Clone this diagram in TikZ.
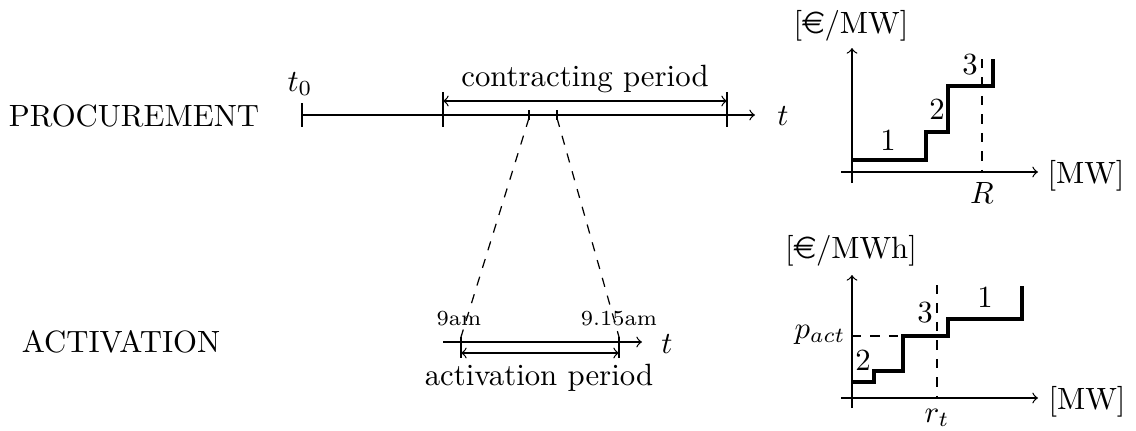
\documentclass[tikz,border=0pt]{standalone}
\usepackage{fontspec}
\usepackage{eurosym}
\begin{document}
\begin{tikzpicture}[x=0.325pt,y=-0.325pt,
  thinln/.style={line width=0.4pt},
  stepln/.style={line width=1.4pt},
  lbl/.style={inner sep=0pt},
  num/.style={inner sep=0pt}]
\useasboundingbox (0,0) rectangle (1136,431);

% ---- left labels
\node[lbl] (proc) at (134,116) {PROCUREMENT};
\node[lbl] (act) at (121,342) {ACTIVATION};

% ---- procurement timeline
\coordinate (p0) at (302,115);
\coordinate (pend) at (755,115);
\draw[thinln,->] (p0) -- (pend);
\draw[thinln] (302,103) -- (302,127);
\draw[thinln] (443,92) -- (443,127);
\draw[thinln] (727,92) -- (727,127);
\draw[thinln] (529,110) -- (529,120);
\draw[thinln] (557,110) -- (557,120);
\coordinate (ca) at (443,101);
\coordinate (cb) at (727,101);
\draw[thinln,<->] (ca) -- (cb);
\node[lbl,anchor=base] (cp) at (585,87) {contracting period};
\node[lbl] (t0) at (300,84) {$t_0$};
\node[lbl] (tt) at (783,116) {$t$};

% ---- activation timeline
\coordinate (a0) at (443,342);
\coordinate (aend) at (642,342);
\draw[thinln,->] (a0) -- (aend);
\coordinate (aa) at (461,337);
\coordinate (ab) at (619,337);
\draw[thinln] (461,337) -- (461,358);
\draw[thinln] (619,337) -- (619,358);
\coordinate (da) at (461,353);
\coordinate (db) at (619,353);
\draw[thinln,<->] (da) -- (db);
\node[lbl,font=\scriptsize] (nine) at (459,319) {9am};
\node[lbl,font=\scriptsize] (ninefif) at (619,319) {9.15am};
\node[lbl] (tb) at (667,344) {$t$};
\node[lbl,anchor=base] (ap) at (539,385) {activation period};

% ---- zoom connectors
\coordinate (s1b) at (529,118);
\coordinate (s2b) at (557,118);
\draw[thinln,dashed] (s1b) -- (aa);
\draw[thinln,dashed] (s2b) -- (ab);

% ---- top plot
\coordinate (ty0) at (852,183);
\coordinate (ty1) at (852,48);
\coordinate (tx0) at (841,172);
\coordinate (tx1) at (1038,172);
\draw[thinln,->] (ty0) -- (ty1);
\draw[thinln,->] (tx0) -- (tx1);
\node[lbl,anchor=base] (tyl) at (851,33) {[\euro/MW]};
\node[lbl,anchor=base] (txl) at (1086,183) {[MW]};
\draw[stepln] (852,160) -- (926,160) -- (926,132) -- (948,132) -- (948,86) -- (993,86) -- (993,59);
\coordinate (rt) at (982,59);
\coordinate (rb) at (982,172);
\draw[thinln,dashed] (rt) -- (rb);
\node[anchor=north] (R) at (rb) {$R$};
\node[num] (n1) at (888,140) {1};
\node[num] (n2) at (937,109) {2};
\node[num] (n3) at (970,65) {3};

% ---- bottom plot
\coordinate (by0) at (852,408);
\coordinate (by1) at (852,275);
\coordinate (bx0) at (841,398);
\coordinate (bx1) at (1038,398);
\draw[thinln,->] (by0) -- (by1);
\draw[thinln,->] (bx0) -- (bx1);
\node[lbl,anchor=base] (byl) at (851,258) {[\euro/MWh]};
\node[lbl,anchor=base] (bxl) at (1087,409) {[MW]};
\draw[stepln] (852,382) -- (874,382) -- (874,371) -- (903,371) -- (903,336) -- (948,336) -- (948,319) -- (1022,319) -- (1022,286);
\coordinate (pl) at (852,336);
\coordinate (pr) at (903,336);
\draw[thinln,dashed] (pl) -- (pr);
\coordinate (vt) at (937,285);
\coordinate (vb) at (937,398);
\draw[thinln,dashed] (vt) -- (vb);
\node[lbl,anchor=base east] (pact) at (846,338) {$p_{act}$};
\node[anchor=north] (rtl) at (vb) {$r_t$};
\node[num] (m2) at (863,360) {2};
\node[num] (m3) at (925,313) {3};
\node[num] (m1) at (985,297) {1};
\end{tikzpicture}
\end{document}
